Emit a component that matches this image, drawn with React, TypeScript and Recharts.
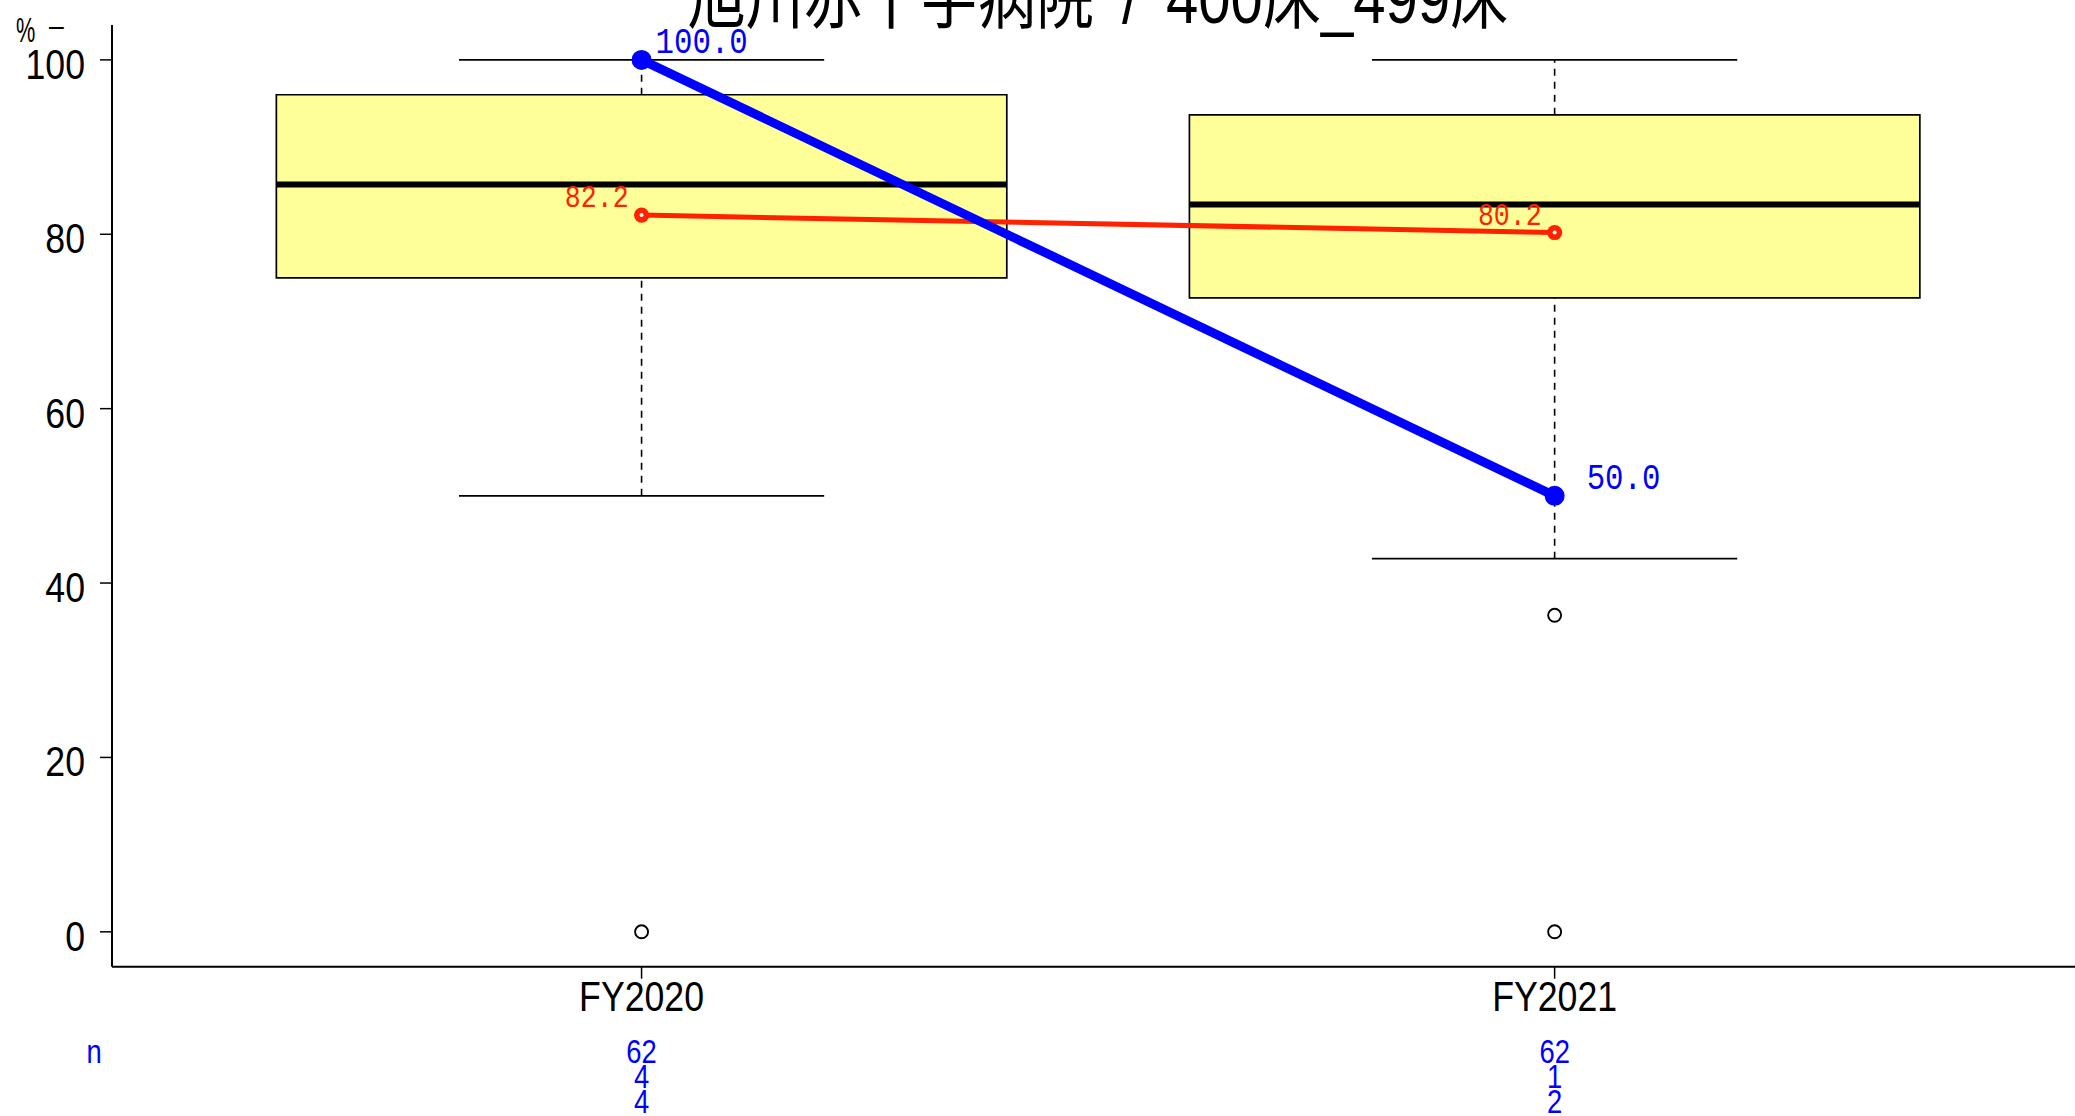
import React from 'react';
import {
  ComposedChart,
  XAxis,
  YAxis,
  Line,
  Scatter,
  ReferenceArea,
  ReferenceLine,
  LabelList,
} from 'recharts';

// ---------- data ----------
const categories = ['FY2020', 'FY2021'];
const boxQ1 = [75.0, 72.7];
const boxQ3 = [96.0, 93.7];
const boxMedian = [85.7, 83.4];
const whiskerLow = [50.0, 42.8];
const whiskerHigh = [100.0, 100.0];
const outliersFY2020 = [0];
const outliersFY2021 = [36.3, 0];
const hospitalValues = [100.0, 50.0];
const averageValues = [82.2, 80.2];
const nAll = [62, 62];
const nNumerator = [4, 1];
const nDenominator = [4, 2];
const yTicks = [0, 20, 40, 60, 80, 100];
const titleText = '旭川赤十字病院 / 400床_499床';

// ---------- derived tables ----------
const lineData = categories.map((c, i) => ({
  x: i + 1,
  name: c,
  hospital: hospitalValues[i],
  average: averageValues[i],
}));
const outlierData = [
  ...outliersFY2020.map((v) => ({ x: 1, y: v })),
  ...outliersFY2021.map((v) => ({ x: 2, y: v })),
];

// ---------- styles ----------
const SANS = '"Liberation Sans", Arial, "Noto Sans CJK JP", sans-serif';
const MONO = '"Liberation Mono", "DejaVu Sans Mono", monospace';
const SQ = 0.83; // horizontal squeeze of text
const BLUE = '#0000FF';
const RED = '#FF2200';
const BOX_FILL = '#FFFF99';
const HALF_BOX = 0.4;
const HALF_CAP = 0.2;

const NText = ({ x, y, size, anchor = 'start', fill = '#000', family = SANS, sq = SQ, wordSpacing, children }: any) => (
  <text
    transform={`translate(${x} ${y}) scale(${sq} 1)`}
    x={0}
    y={0}
    textAnchor={anchor}
    fontSize={size}
    fontFamily={family}
    fill={fill}
    style={wordSpacing ? { wordSpacing } : undefined}
  >
    {children}
  </text>
);

const YTick = (props: any) => {
  const { x, y, payload } = props;
  return (
    <NText x={x} y={y + 19} size={43} anchor="end">
      {payload.value}
    </NText>
  );
};

const XTick = (props: any) => {
  const { x, y, payload } = props;
  const idx = Math.round(payload.value) - 1;
  const label = categories[idx] ?? '';
  return (
    <g>
      <NText x={x} y={y + 32} size={43} anchor="middle">
        {label}
      </NText>
      <NText x={x} y={y + 84} size={33} anchor="middle" fill={BLUE}>
        {nAll[idx]}
      </NText>
      <NText x={x} y={y + 109} size={33} anchor="middle" fill={BLUE}>
        {nNumerator[idx]}
      </NText>
      <NText x={x} y={y + 134} size={33} anchor="middle" fill={BLUE}>
        {nDenominator[idx]}
      </NText>
    </g>
  );
};

const BlueDot = (props: any) => {
  const { cx, cy, index } = props;
  if (cx == null || cy == null) return <g key={`bd${index}`} />;
  return <circle key={`bd${index}`} cx={cx} cy={cy} r={10} fill={BLUE} />;
};

const RedDot = (props: any) => {
  const { cx, cy, index } = props;
  if (cx == null || cy == null) return <g key={`rd${index}`} />;
  return (
    <g key={`rd${index}`}>
      <circle cx={cx} cy={cy} r={7.6} fill={RED} />
      <circle cx={cx} cy={cy} r={2} fill="#fff" />
    </g>
  );
};

const OpenCircle = (props: any) => {
  const { cx, cy } = props;
  return <circle cx={cx} cy={cy} r={6.5} fill="none" stroke="#000" strokeWidth={1.9} />;
};

const blueLabelDx = [14, 32];
const BlueLabel = (props: any) => {
  const { x, y, value, index } = props;
  return (
    <NText x={x + blueLabelDx[index]} y={y - 7} size={37} fill={BLUE} family={MONO}>
      {Number(value).toFixed(1)}
    </NText>
  );
};

const RedLabel = (props: any) => {
  const { x, y, value } = props;
  return (
    <NText x={x - 13} y={y - 8} size={32} anchor="end" fill={RED} family={MONO}>
      {Number(value).toFixed(1)}
    </NText>
  );
};

export default function App() {
  return (
    <div
      style={{
        position: 'absolute',
        left: 0,
        top: 0,
        width: 2075,
        height: 1116,
        overflow: 'hidden',
        background: '#fff',
      }}
    >
      <ComposedChart
        width={2090}
        height={1116}
        data={lineData}
        margin={{ top: 25, right: 5.8, bottom: 0, left: 0 }}
      >
        <XAxis
          type="number"
          dataKey="x"
          domain={[0.42, 2.58]}
          ticks={[1, 2]}
          allowDataOverflow
          height={149.3}
          tickSize={12}
          tickMargin={0}
          axisLine={{ stroke: '#000', strokeWidth: 2 }}
          tickLine={{ stroke: '#000', strokeWidth: 1.5 }}
          tick={<XTick />}
          interval={0}
        />
        <YAxis
          type="number"
          domain={[-4, 104]}
          ticks={yTicks}
          allowDataOverflow
          width={112}
          tickSize={12}
          tickMargin={15}
          axisLine={{ stroke: '#000', strokeWidth: 2 }}
          tickLine={{ stroke: '#000', strokeWidth: 1.5 }}
          tick={<YTick />}
          interval={0}
        />
        {categories.map((c, i) => (
          <ReferenceArea
            key={`box${c}`}
            x1={i + 1 - HALF_BOX}
            x2={i + 1 + HALF_BOX}
            y1={boxQ1[i]}
            y2={boxQ3[i]}
            fill={BOX_FILL}
            fillOpacity={1}
            stroke="#000"
            strokeWidth={1.7}
            ifOverflow="visible"
          />
        ))}
        {categories.map((c, i) => (
          <ReferenceLine
            key={`wu${c}`}
            segment={[
              { x: i + 1, y: boxQ3[i] },
              { x: i + 1, y: whiskerHigh[i] },
            ]}
            stroke="#000"
            strokeWidth={1.6}
            strokeDasharray="7 6"
            ifOverflow="visible"
          />
        ))}
        {categories.map((c, i) => (
          <ReferenceLine
            key={`wl${c}`}
            segment={[
              { x: i + 1, y: whiskerLow[i] },
              { x: i + 1, y: boxQ1[i] },
            ]}
            stroke="#000"
            strokeWidth={1.6}
            strokeDasharray="7 6"
            ifOverflow="visible"
          />
        ))}
        {categories.map((c, i) => (
          <ReferenceLine
            key={`cu${c}`}
            segment={[
              { x: i + 1 - HALF_CAP, y: whiskerHigh[i] },
              { x: i + 1 + HALF_CAP, y: whiskerHigh[i] },
            ]}
            stroke="#000"
            strokeWidth={1.7}
            ifOverflow="visible"
          />
        ))}
        {categories.map((c, i) => (
          <ReferenceLine
            key={`cl${c}`}
            segment={[
              { x: i + 1 - HALF_CAP, y: whiskerLow[i] },
              { x: i + 1 + HALF_CAP, y: whiskerLow[i] },
            ]}
            stroke="#000"
            strokeWidth={1.7}
            ifOverflow="visible"
          />
        ))}
        {categories.map((c, i) => (
          <ReferenceLine
            key={`md${c}`}
            segment={[
              { x: i + 1 - HALF_BOX, y: boxMedian[i] },
              { x: i + 1 + HALF_BOX, y: boxMedian[i] },
            ]}
            stroke="#000"
            strokeWidth={6}
            ifOverflow="visible"
          />
        ))}
        <Scatter
          data={outlierData}
          dataKey="y"
          shape={<OpenCircle />}
          isAnimationActive={false}
        />
        <Line
          type="linear"
          dataKey="average"
          stroke={RED}
          strokeWidth={5}
          dot={<RedDot />}
          activeDot={false}
          isAnimationActive={false}
        >
          <LabelList dataKey="average" content={<RedLabel />} />
        </Line>
        <Line
          type="linear"
          dataKey="hospital"
          stroke={BLUE}
          strokeWidth={9}
          dot={<BlueDot />}
          activeDot={false}
          isAnimationActive={false}
        >
          <LabelList dataKey="hospital" content={<BlueLabel />} />
        </Line>
      </ComposedChart>
      <svg
        width={2075}
        height={1116}
        style={{ position: 'absolute', left: 0, top: 0, pointerEvents: 'none' }}
      >
        <NText x={1098} y={23} size={70} anchor="middle" wordSpacing={14}>
          {titleText}
        </NText>
        <NText x={16} y={42} size={35} sq={0.62}>
          %
        </NText>
        <NText x={49} y={36} size={32}>
          –
        </NText>
        <NText x={94} y={1063} size={33} anchor="middle" fill={BLUE}>
          n
        </NText>
      </svg>
    </div>
  );
}
